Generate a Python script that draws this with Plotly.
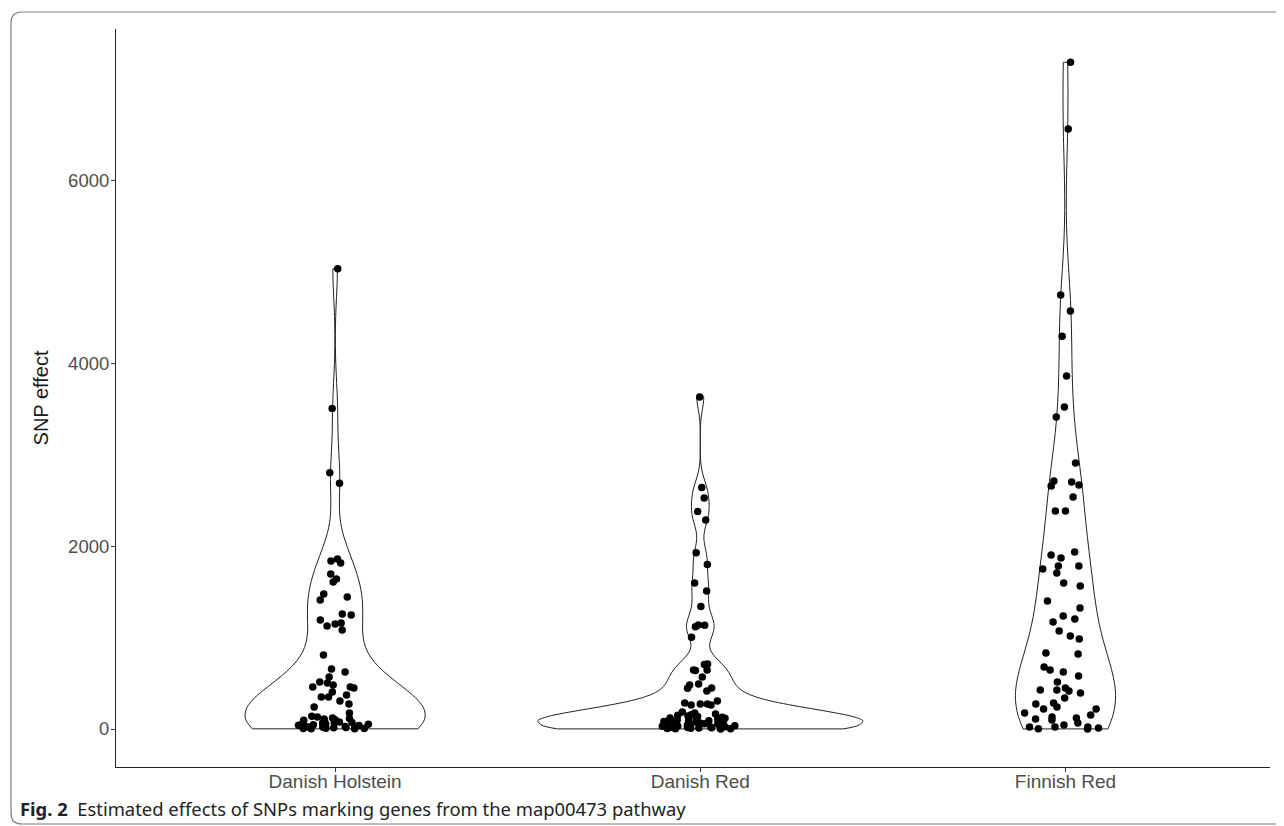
import numpy as np
import plotly.graph_objects as go

categories = ["Danish Holstein", "Danish Red", "Finnish Red"]

danish_holstein = [
    5040, 3510, 2805, 2690, 1840, 1818, 1862, 1697, 1610, 1643, 1445, 1413, 1478,
    1248, 1259, 1161, 1194, 1084, 1150, 1128, 810, 657, 624, 569, 504, 515, 460,
    482, 460, 449, 372, 405, 350, 307, 350, 241, 274, 175, 110,
    120, 95, 78, 62, 55, 41, 33, 27, 20, 16, 11, 8, 5, 3, 2, 66, 47,
    140, 131, 102, 88, 71, 52, 38, 24, 14, 6, 115, 69,
]

danish_red = [
    3635, 2645, 2530, 2380, 2289, 1930, 1800, 1599, 1511, 1340, 1139, 1120, 1135,
    1005, 705, 712, 646, 569, 646, 640, 482, 449, 493, 445, 416, 307, 274, 263,
    274, 263, 285, 186, 164, 175,
    150, 142, 128, 121, 108, 99, 91, 83, 72, 64, 57, 49, 41, 36, 29, 24, 19, 13,
    9, 5, 2, 88, 66,
    155, 137, 118, 104, 96, 86, 78, 75, 68, 61, 53, 45, 38, 32, 26, 21, 16, 11,
    7, 4, 1, 81,
]

finnish_red = [
    7300, 6570, 4752, 4577, 4300, 3865, 3526, 3416, 2913, 2716, 2672, 2540, 2661,
    2705, 2387, 2387, 1938, 1905, 1872, 1785, 1708, 1752, 1785, 1599, 1566, 1402,
    1325, 1237, 1205, 1172, 1073, 985, 1018, 821, 832, 679, 624, 646, 580, 515,
    416, 394, 427, 449, 427, 339, 285, 241, 274, 219, 175, 219, 153, 120, 99, 66,
    110, 131, 22, 1, 22, 11, 44, 22, 2,
]

series = [danish_holstein, danish_red, finnish_red]
violin_widths = [0.49, 0.89, 0.274]
jitters = [0.42, 0.24, 0.85]

y_ticks = [0, 2000, 4000, 6000]


def bw_nrd0(v):
    v = np.asarray(v, dtype=float)
    sd = v.std(ddof=1)
    iqr = np.percentile(v, 75) - np.percentile(v, 25)
    lo = min(sd, iqr / 1.34)
    return 0.9 * lo * len(v) ** -0.2


fig = go.Figure()
for cat, vals, w, j in zip(categories, series, violin_widths, jitters):
    fig.add_trace(go.Violin(
        x=[cat] * len(vals),
        y=vals,
        name=cat,
        width=w,
        bandwidth=bw_nrd0(vals),
        spanmode="hard",
        points="all",
        pointpos=0,
        jitter=j,
        marker=dict(color="black", size=7.5, line=dict(width=0)),
        line=dict(color="#222222", width=1),
        fillcolor="rgba(255,255,255,0)",
        box_visible=False,
        meanline_visible=False,
        showlegend=False,
        hoveron="points",
    ))

# page body has an 8px margin; work in screen pixels and convert
OFF = 8
FW, FH = 1284 - OFF, 826 - OFF
L, T = 116 - OFF, 29 - OFF
R = FW - (1270 - OFF)
B = FH - (767 - OFF)
W, H = FW - L - R, FH - T - B


def px(x):
    return (x - OFF - L) / W


def py(y):
    return (FH - B - (y - OFF)) / H


# open frame: top, left and bottom edges with rounded corners (right edge is off-page)
x0, x1, y0, y1 = 11, 1300, 12, 824
r = 11
path = (
    f"M {px(x1)},{py(y0)} L {px(x0 + r)},{py(y0)} "
    f"Q {px(x0)},{py(y0)} {px(x0)},{py(y0 + r)} "
    f"L {px(x0)},{py(y1 - r)} Q {px(x0)},{py(y1)} {px(x0 + r)},{py(y1)} "
    f"L {px(x1)},{py(y1)}"
)

fig.update_layout(
    width=FW,
    height=FH,
    margin=dict(l=L, r=R, t=T, b=B),
    paper_bgcolor="white",
    plot_bgcolor="white",
    violinmode="overlay",
    font=dict(family="Liberation Sans, Arial, sans-serif", color="#4d4d4d", size=19),
    xaxis=dict(
        type="category",
        categoryorder="array",
        categoryarray=categories,
        range=[-0.6, 2.56],
        showline=True,
        linecolor="#222222",
        linewidth=1.1,
        ticks="outside",
        ticklen=4,
        tickcolor="#333333",
        showgrid=False,
        zeroline=False,
        ticklabelstandoff=-7,
        tickfont=dict(size=19, color="#4d4d4d"),
    ),
    yaxis=dict(
        range=[-416, 7664],
        tickvals=y_ticks,
        ticktext=[str(t) for t in y_ticks],
        showline=True,
        linecolor="#222222",
        linewidth=1.1,
        ticks="outside",
        ticklen=4,
        tickcolor="#333333",
        showgrid=False,
        zeroline=False,
        ticklabelstandoff=-2,
        tickfont=dict(size=18.5, color="#4d4d4d"),
        title=dict(text="SNP effect", font=dict(size=20, color="#1a1a1a"), standoff=14),
    ),
    shapes=[dict(type="path", xref="paper", yref="paper", path=path,
                 line=dict(color="#7a7a7a", width=1.2), fillcolor="rgba(0,0,0,0)",
                 layer="below")],
    annotations=[dict(
        xref="paper", yref="paper", x=px(18), y=py(808),
        xanchor="left", yanchor="middle", showarrow=False,
        text="<b>Fig. 2</b>  Estimated effects of SNPs marking genes from the map00473 pathway",
        font=dict(family="Noto Sans, sans-serif", size=18.4, color="#222222"),
    )],
)

fig.write_html("out.html")
